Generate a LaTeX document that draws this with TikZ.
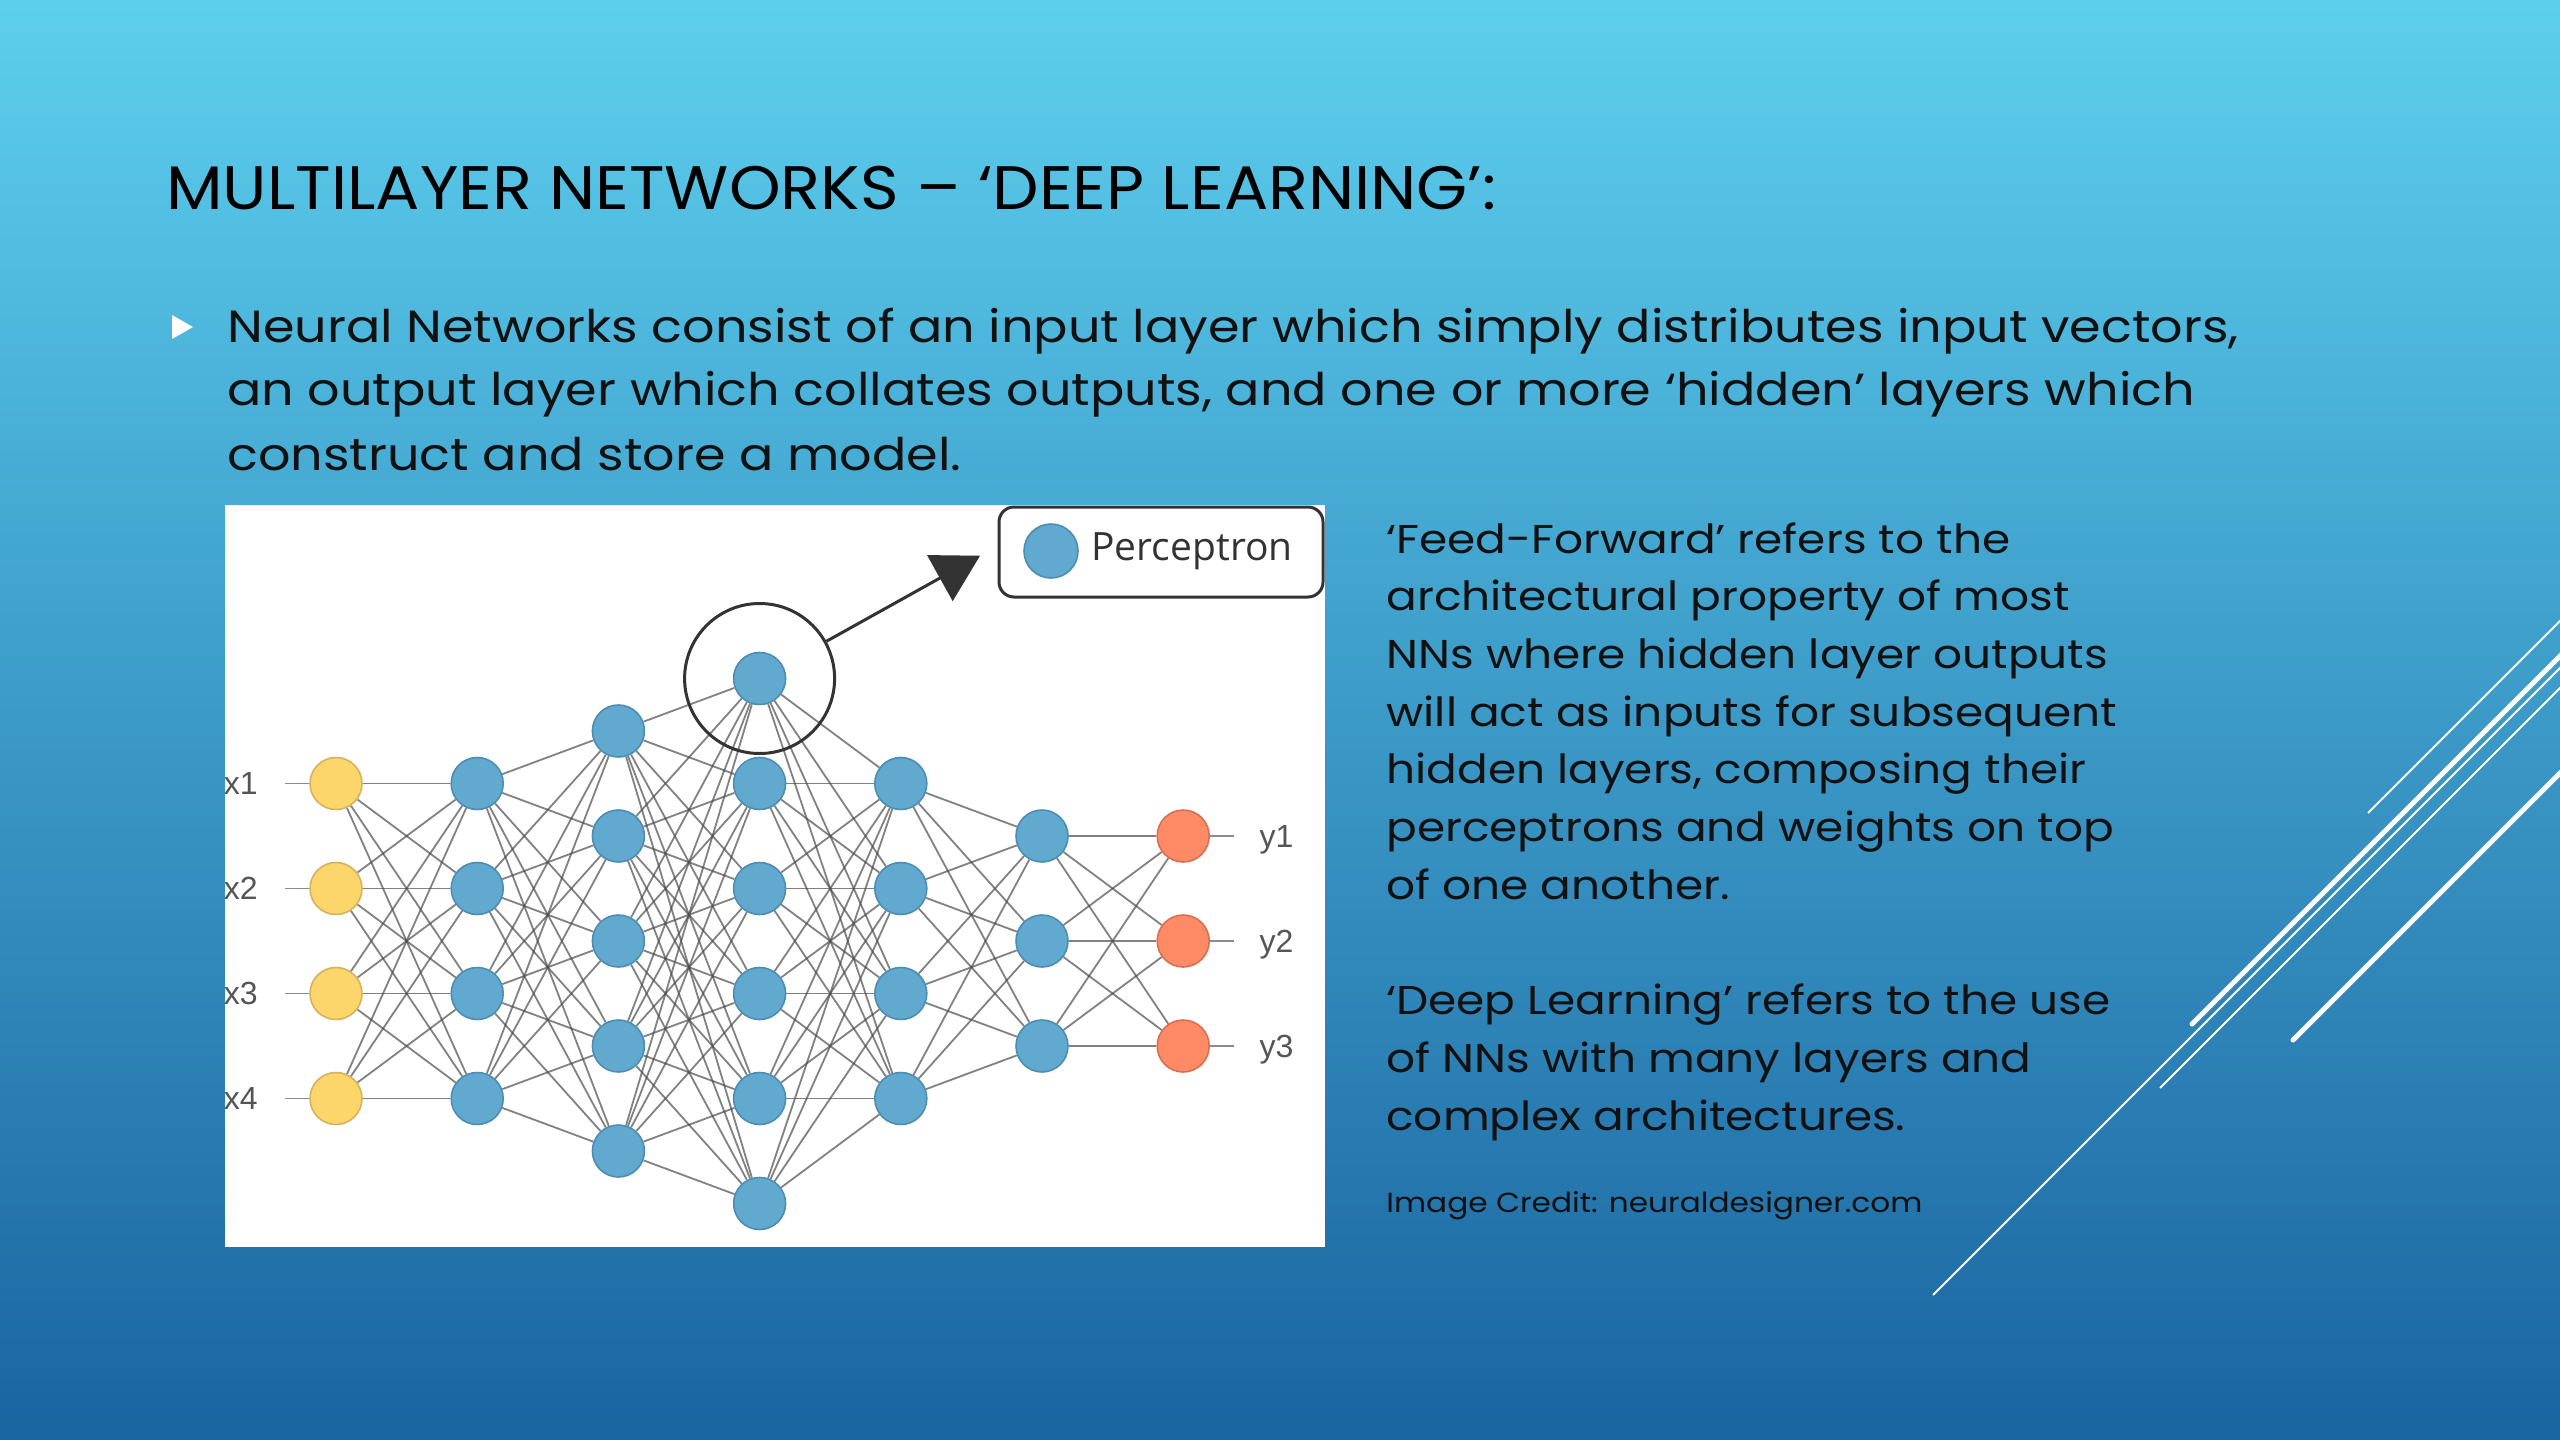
\documentclass[tikz,border=0pt]{standalone}
\usepackage{fontspec}
\usetikzlibrary{arrows.meta,calc}
\setmainfont{Poppins}
\newfontfamily\titlefont[FakeStretch=1.07]{Poppins}
\newfontfamily\bodyfont[FakeStretch=1.13]{Poppins}
\newfontfamily\labelfont{Liberation Sans}
\newfontfamily\legendfont{Open Sans}
\newcommand\titlesize{\titlefont\fontsize{30.7}{36}\selectfont}
\newcommand\bodysize{\bodyfont\fontsize{22.5}{26}\selectfont}
\newcommand\sidesize{\bodyfont\fontsize{20.1}{24}\selectfont}
\newcommand\creditsize{\bodyfont\fontsize{13.8}{16}\selectfont}
\definecolor{bgtop}{HTML}{5DCFEE}
\definecolor{bgmid}{HTML}{3399CC}
\definecolor{bgbot}{HTML}{1A64A0}
\definecolor{cellblue}{HTML}{62A9CF}
\definecolor{cellblueline}{HTML}{4C8DB3}
\definecolor{cellyellow}{HTML}{FDD66B}
\definecolor{cellyellowline}{HTML}{D6B25E}
\definecolor{cellorange}{HTML}{FF8B66}
\definecolor{cellorangeline}{HTML}{D8704F}
\definecolor{ink}{HTML}{333333}
\definecolor{labelgray}{HTML}{555555}
\definecolor{textblack}{HTML}{111111}
\pgfdeclarelayer{back}
\pgfdeclarelayer{wires}
\pgfsetlayers{back,wires,main}

\begin{document}
\begin{tikzpicture}[x=0.5pt,y=-0.5pt,
    cell/.style={circle,draw=cellblueline,fill=cellblue,line width=0.8pt,minimum size=26pt,inner sep=0pt},
    incell/.style={cell,draw=cellyellowline,fill=cellyellow},
    outcell/.style={cell,draw=cellorangeline,fill=cellorange},
    wire/.style={draw=black!70,opacity=0.7,line width=0.9pt},
    stub/.style={draw=black!45,line width=0.9pt},
    iolabel/.style={font=\labelfont\fontsize{16}{18}\selectfont,text=labelgray,inner sep=0pt,text depth=0pt},
    slidetext/.style={anchor=base west,inner sep=0pt,text=textblack},
    deco/.style={white,line width=1pt},
    decothick/.style={white,line width=2.5pt,line cap=round}]
  % slide background
  \path[use as bounding box] (0,0) rectangle (2560,1440);
  \begin{pgfonlayer}{back}
    \shade[top color=bgtop,middle color=bgmid,bottom color=bgbot] (0,0) rectangle (2560,1440);
    \fill[white] (225,505) rectangle (1325,1247);
  \end{pgfonlayer}
  % title and bullet
  \node[slidetext,font=\titlesize,text=black] (title) at (166,209) {MULTILAYER NETWORKS – ‘DEEP LEARNING’:};
  \fill[white] (172,315) -- (193,327) -- (172,339) -- cycle;
  \node[slidetext,font=\bodysize] (body1) at (227,342) {Neural Networks consist of an input layer which simply distributes input vectors,};
  \node[slidetext,font=\bodysize] (body2) at (227,405) {an output layer which collates outputs, and one or more ‘hidden’ layers which};
  \node[slidetext,font=\bodysize] (body3) at (227,470) {construct and store a model.};
  % network picture
  \foreach \n/\s [count=\i] in {4/incell,4/cell,5/cell,6/cell,4/cell,3/cell,3/outcell}
    \foreach \j in {1,...,\n}
      \node[\s] (n\i-\j) at ({336+141.2*(\i-1)},{941+(\j-(\n+1)/2)*105}) {};
  \begin{pgfonlayer}{wires}
    \foreach \i/\n/\m in {1/4/4,2/4/5,3/5/6,4/6/4,5/4/3,6/3/3} {
      \pgfmathtruncatemacro\k{\i+1}
      \foreach \a in {1,...,\n}
        \foreach \b in {1,...,\m}
          \draw[wire] (n\i-\a) -- (n\k-\b);
    }
    \foreach \j in {1,...,4} {
      \coordinate (in\j) at ($(n1-\j)+(-51,0)$);
      \draw[stub] (in\j) -- (n1-\j);
    }
    \foreach \j in {1,...,3} {
      \coordinate (out\j) at ($(n7-\j)+(51,0)$);
      \draw[stub] (n7-\j) -- (out\j);
    }
  \end{pgfonlayer}
  \begin{scope}
    \clip (225,505) rectangle (1325,1247);
    \foreach \j in {1,...,4}
      \node[iolabel,anchor=east] at ($(in\j)+(-27,0)$) {x\j};
    \foreach \j in {1,...,3}
      \node[iolabel,anchor=west] at ($(out\j)+(25,0)$) {y\j};
    % perceptron call-out
    \node[circle,draw=ink,line width=1.5pt,minimum size=75pt,inner sep=0pt] (focus) at (n4-1) {};
    \node[draw=ink,line width=1.5pt,rounded corners=7.5pt,minimum width=162pt,minimum height=45pt,inner sep=0pt] (legend) at (1161,552) {};
    \node[cell,minimum size=27pt] (key) at (1051,551) {};
    \node[slidetext,font=\legendfont\fontsize{19.5}{22}\selectfont,text=ink] (keytext) at (1091,560) {Perceptron};
    \draw[ink,line width=1.5pt,-{Triangle[length=23pt,width=26pt]},shorten >=10pt] (focus) -- ($(legend.west)+(0,-6)$);
  \end{scope}
  % right column
  \foreach \t [count=\k from 0] in {{‘Feed-Forward’ refers to the},{architectural property of most},{NNs where hidden layer outputs},{will act as inputs for subsequent},{hidden layers, composing their},{perceptrons and weights on top},{of one another.}}
    \node[slidetext,font=\sidesize] (side\k) at (1386,{553+57.7*\k}) {\t};
  \foreach \t [count=\k from 8] in {{‘Deep Learning’ refers to the use},{of NNs with many layers and},{complex architectures.}}
    \node[slidetext,font=\sidesize] (side\k) at (1386,{553+57.7*\k}) {\t};
  \node[slidetext,font=\creditsize] (credit) at (1386,1212) {Image Credit: neuraldesigner.com};
  % decorative strokes
  \draw[deco] (2368,813) -- (2580,601);
  \draw[decothick] (2192,1024) -- (2580,636);
  \draw[deco] (1933,1295) -- (2580,648);
  \draw[deco] (2160,1088) -- (2580,668);
  \draw[decothick] (2293,1040) -- (2580,753);
\end{tikzpicture}
\end{document}
